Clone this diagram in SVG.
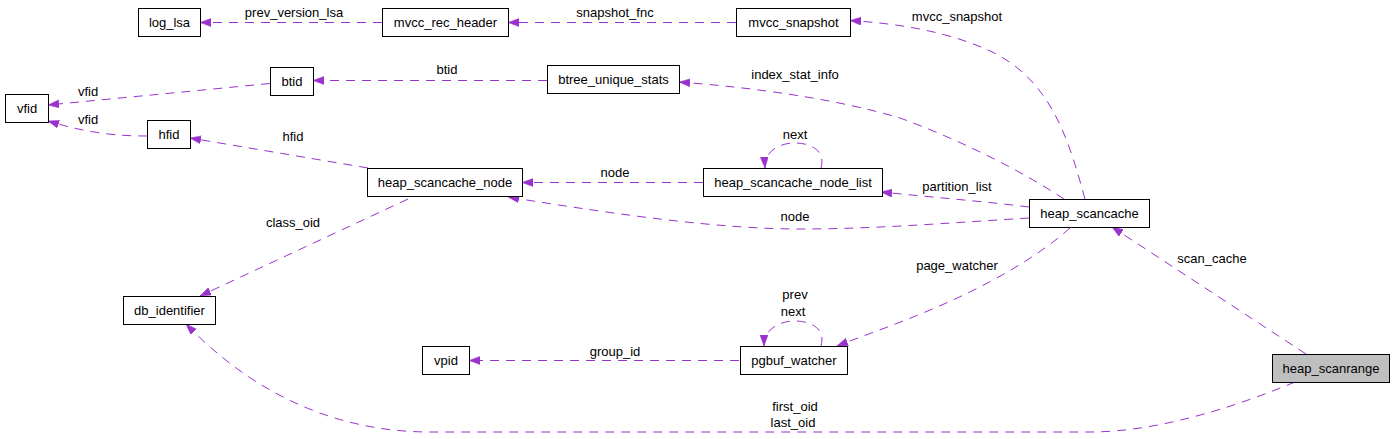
<svg xmlns="http://www.w3.org/2000/svg" width="1395" height="439" viewBox="0 0 1395 439">
<defs>
<style>
.node rect{fill:#ffffff;stroke:#000000;stroke-width:1}
.node.root rect{fill:#bfbfbf}
text{font-family:"Liberation Sans",Arial,sans-serif;font-size:13px;fill:#000000}
.node text{text-anchor:middle}
.lbl{text-anchor:middle}
.edge{fill:none;stroke:#9a32cd;stroke-width:1;stroke-dasharray:9,7;marker-end:url(#arr)}
</style>
<marker id="arr" markerUnits="userSpaceOnUse" markerWidth="12" markerHeight="9" refX="11" refY="4" orient="auto">
<path d="M0,0 L11,4 L0,8 z" fill="#9a32cd" stroke="#9a32cd" stroke-width="0.5"/>
</marker>
</defs>
<rect width="1395" height="439" fill="#ffffff"/>
<g id="connectors">
<path class="edge" d="M382,22.5 L200,22.5"/>
<path class="edge" d="M736,22.5 L508,22.5"/>
<path class="edge" d="M1085,199 C1068,137 1050,78 988,50 C950,33 905,24 850,20.5"/>
<path class="edge" d="M547,80.5 L313,80.5"/>
<path class="edge" d="M1064,199 C1020,170 960,140 900,118 C840,100 760,88 679,82"/>
<path class="edge" d="M270,83.5 L48,105"/>
<path class="edge" d="M147,136 C120,136 90,134 48,121"/>
<path class="edge" d="M368,168 L190,138"/>
<path class="edge" d="M703,182.5 L522,182.5"/>
<path class="edge" d="M821,168 C826,150 810,143 795,143 C778,143 764,152 765,168"/>
<path class="edge" d="M1029,207 C990,202 930,197 881,192"/>
<path class="edge" d="M1029,218 C960,222 880,229 800,229 C720,229 620,215 508,197"/>
<path class="edge" d="M408,199 L200,296"/>
<path class="edge" d="M1070,228 C1040,255 990,285 930,310 C895,325 865,335 837,346"/>
<path class="edge" d="M821,346 C826,328 810,321 795,321 C778,321 764,330 764,346"/>
<path class="edge" d="M739,360.5 L469,360.5"/>
<path class="edge" d="M1306,354 L1112,227"/>
<path class="edge" d="M1295,382 C1240,405 1160,432 1090,432 L430,432 C320,432 240,380 186,324"/>
<text class="lbl" x="294" y="17">prev_version_lsa</text>
<text class="lbl" x="615" y="17">snapshot_fnc</text>
<text class="lbl" x="957" y="21">mvcc_snapshot</text>
<text class="lbl" x="447" y="74">btid</text>
<text class="lbl" x="795" y="79">index_stat_info</text>
<text class="lbl" x="88" y="96">vfid</text>
<text class="lbl" x="88" y="124">vfid</text>
<text class="lbl" x="293" y="141">hfid</text>
<text class="lbl" x="615" y="177">node</text>
<text class="lbl" x="795" y="139">next</text>
<text class="lbl" x="957" y="191">partition_list</text>
<text class="lbl" x="795" y="221">node</text>
<text class="lbl" x="293" y="227">class_oid</text>
<text class="lbl" x="957" y="270">page_watcher</text>
<text class="lbl" x="795" y="299">prev</text>
<text class="lbl" x="793" y="316">next</text>
<text class="lbl" x="615" y="356">group_id</text>
<text class="lbl" x="1212" y="263">scan_cache</text>
<text class="lbl" x="795" y="411">first_oid</text>
<text class="lbl" x="793" y="427">last_oid</text>
</g>
<g id="log_lsa" class="node"><rect x="138.5" y="8.5" width="62" height="28"/><text x="169.5" y="27">log_lsa</text></g>
<g id="mvcc_rec_header" class="node"><rect x="382.5" y="8.5" width="126" height="28"/><text x="445.5" y="27">mvcc_rec_header</text></g>
<g id="mvcc_snapshot" class="node"><rect x="736.5" y="8.5" width="114" height="28"/><text x="793.5" y="27">mvcc_snapshot</text></g>
<g id="btid" class="node"><rect x="270.5" y="67.5" width="43" height="28"/><text x="292" y="86">btid</text></g>
<g id="btree_unique_stats" class="node"><rect x="547.5" y="65.5" width="132" height="28"/><text x="613.5" y="84">btree_unique_stats</text></g>
<g id="vfid" class="node"><rect x="5.5" y="94.5" width="43" height="28"/><text x="27" y="113">vfid</text></g>
<g id="hfid" class="node"><rect x="147.5" y="120.5" width="43" height="28"/><text x="169" y="139">hfid</text></g>
<g id="heap_scancache_node" class="node"><rect x="367.5" y="168.5" width="155" height="28"/><text x="445" y="187">heap_scancache_node</text></g>
<g id="heap_scancache_node_list" class="node"><rect x="703.5" y="168.5" width="179" height="28"/><text x="793" y="187">heap_scancache_node_list</text></g>
<g id="heap_scancache" class="node"><rect x="1029.5" y="199.5" width="120" height="28"/><text x="1089.5" y="218">heap_scancache</text></g>
<g id="db_identifier" class="node"><rect x="123.5" y="296.5" width="92" height="28"/><text x="169.5" y="315">db_identifier</text></g>
<g id="vpid" class="node"><rect x="422.5" y="346.5" width="47" height="28"/><text x="446" y="365">vpid</text></g>
<g id="pgbuf_watcher" class="node"><rect x="740.5" y="346.5" width="107" height="28"/><text x="794" y="365">pgbuf_watcher</text></g>
<g id="heap_scanrange" class="node root"><rect x="1272.5" y="354.5" width="117" height="28"/><text x="1331" y="373">heap_scanrange</text></g>
</svg>
